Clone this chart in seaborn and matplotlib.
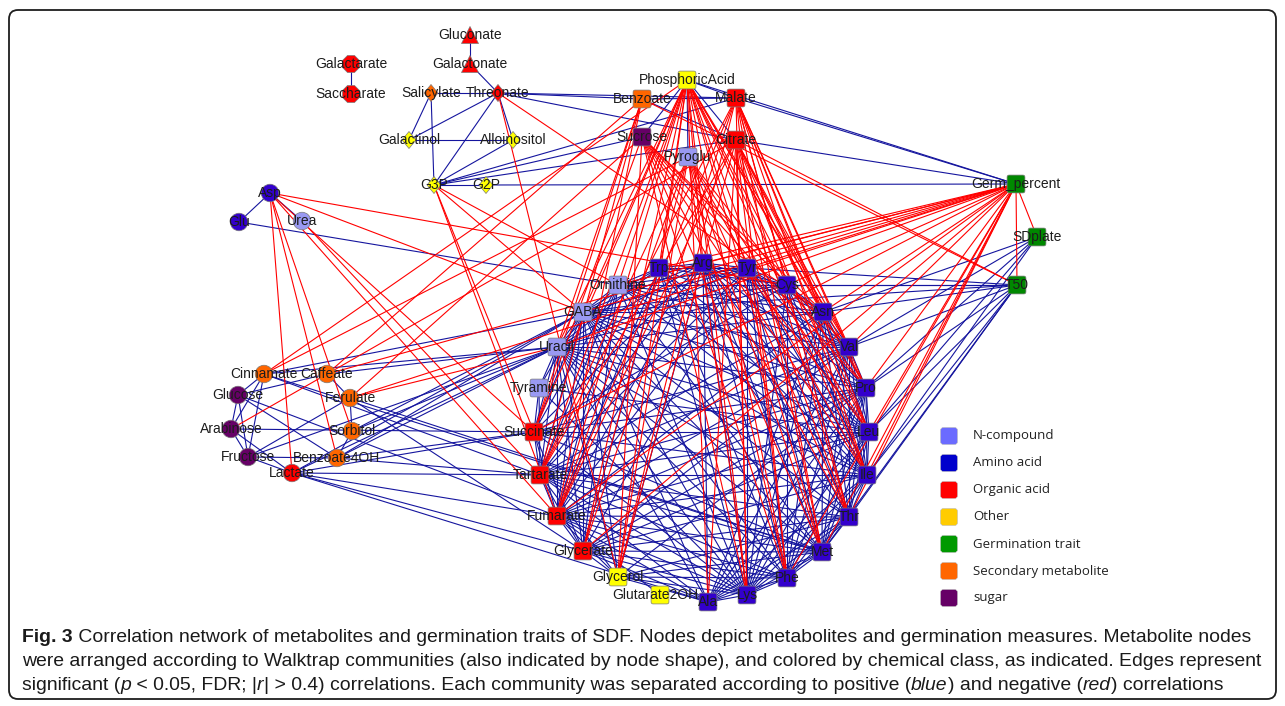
import matplotlib
matplotlib.use("Agg")
import matplotlib.pyplot as plt
from matplotlib.path import Path
from matplotlib.patches import FancyBboxPatch
from matplotlib.collections import LineCollection
from matplotlib import font_manager
import numpy as np
import pandas as pd
import seaborn as sns

# ------------------------------------------------------------------ data
node_names = ["Gluconate", "Galactonate", "Galactarate", "Saccharate",
              "Salicylate", "Threonate", "Galactinol", "Alloinositol", "G3P", "G2P",
              "PhosphoricAcid", "Benzoate", "Malate", "Sucrose", "Citrate", "Pyroglu",
              "Germ_percent", "SDplate", "T50",
              "Asp", "Glu", "Urea",
              "Ornithine", "Trp", "Arg", "Tyr", "Cys", "Asn", "Val", "Pro", "Leu", "Ile",
              "Thr", "Met", "Phe", "Lys", "Ala", "Glutarate2OH", "Glycerol", "Glycerate",
              "Fumarate", "Tartarate", "Succinate", "Tyramine", "Uracil", "GABA",
              "Cinnamate", "Caffeate", "Glucose", "Ferulate", "Arabinose", "Sorbitol",
              "Fructose", "Benzoate4OH", "Lactate"]
node_x = [470, 470, 351, 351,
          431, 498, 409, 513, 434, 486,
          687, 642, 736, 642, 736, 688,
          1016, 1037, 1017,
          270, 239, 302,
          618, 659, 703, 747, 787, 823, 849, 866, 869, 867,
          849, 822, 787, 747, 708, 660, 618, 583,
          557, 540, 534, 539, 557, 583,
          264, 327, 238, 350, 231, 352,
          248, 337, 292]
node_y = [35, 64, 64, 94,
          93, 93, 140, 140, 185, 185,
          80, 99, 98, 137, 140, 157,
          184, 237, 285,
          193, 222, 221,
          285, 268, 263, 268, 285, 312, 347, 388, 432, 475,
          517, 552, 578, 595, 602, 595, 577, 551,
          516, 475, 432, 388, 347, 312,
          374, 374, 395, 398, 429, 431,
          457, 458, 473]
node_class = ["Organic acid", "Organic acid", "Organic acid", "Organic acid",
              "Secondary metabolite", "Organic acid", "Other", "Other", "Other", "Other",
              "Other", "Secondary metabolite", "Organic acid", "sugar", "Organic acid", "N-compound",
              "Germination trait", "Germination trait", "Germination trait",
              "Amino acid", "Amino acid", "N-compound",
              "N-compound", "Amino acid", "Amino acid", "Amino acid", "Amino acid", "Amino acid",
              "Amino acid", "Amino acid", "Amino acid", "Amino acid",
              "Amino acid", "Amino acid", "Amino acid", "Amino acid", "Amino acid", "Other",
              "Other", "Organic acid",
              "Organic acid", "Organic acid", "Organic acid", "N-compound", "N-compound", "N-compound",
              "Secondary metabolite", "Secondary metabolite", "sugar", "Secondary metabolite",
              "sugar", "Secondary metabolite", "sugar", "Secondary metabolite", "Organic acid"]
node_community = (["C1"] * 2 + ["C2"] * 2 + ["C3"] * 6 + ["C4"] * 9 + ["C5"] * 3
                  + ["C4"] * 24 + ["C5"] * 9)

# positive correlations (blue)
positive_edges = {
    "Gluconate": ["Galactonate"],
    "Galactarate": ["Saccharate"],
    "Galactonate": ["Threonate"],
    "Salicylate": ["Threonate", "Galactinol", "G3P"],
    "Threonate": ["Galactinol", "Alloinositol", "G3P", "Benzoate", "Malate", "Citrate"],
    "Galactinol": ["Alloinositol"],
    "G3P": ["G2P", "Alloinositol", "Sucrose", "Malate", "Citrate"],
    "G2P": ["Germ_percent"],
    "PhosphoricAcid": ["Malate", "Pyroglu", "Citrate", "Sucrose", "Germ_percent"],
    "Malate": ["Germ_percent", "Benzoate"],
    "Citrate": ["Germ_percent", "Benzoate"],
    "SDplate": ["Asn", "Val", "Pro", "Leu", "Ile"],
    "T50": ["Ornithine", "GABA", "Tyr", "Cys", "Asn", "Val", "Pro", "Leu", "Ile", "Thr", "Met"],
    "Asp": ["Glu", "Urea"],
    "Glu": ["Ornithine"],
    "Cinnamate": ["Glucose", "Arabinose", "Fructose", "Uracil", "GABA", "Tartarate", "Met"],
    "Caffeate": ["Ferulate", "Uracil", "Glucose"],
    "Glucose": ["Arabinose", "Fructose", "Fumarate", "Benzoate4OH"],
    "Arabinose": ["Fructose", "Lactate", "Succinate"],
    "Ferulate": ["Sorbitol", "Glycerate", "Met", "Fructose"],
    "Sorbitol": ["Uracil", "GABA", "Benzoate4OH"],
    "Fructose": ["Uracil", "Lactate", "Benzoate4OH"],
    "Benzoate4OH": ["Uracil", "GABA", "Succinate", "Tartarate"],
    "Lactate": ["Uracil", "GABA", "Succinate", "Tartarate", "Fumarate", "Glycerate", "Ala"],
    "Ornithine": ["Trp", "Arg", "Tyr", "Asn", "Val", "Pro", "Leu", "Ile", "Met", "Lys", "GABA",
                  "Uracil", "Succinate", "Fumarate", "Tartarate", "Glycerate"],
    "Trp": ["Arg", "Tyr", "Cys", "Val", "Leu", "Ile", "Thr", "Phe", "Lys", "GABA", "Uracil",
            "Fumarate", "Glycerate"],
    "Arg": ["Tyr", "Cys", "Asn", "Val", "Pro", "Leu", "Ile", "Thr", "Met", "Phe", "Lys", "Ala",
            "GABA", "Uracil", "Succinate", "Tartarate", "Fumarate", "Glycerol"],
    "Tyr": ["Cys", "Asn", "Val", "Pro", "Leu", "Ile", "Thr", "Met", "Phe", "Lys", "GABA",
            "Uracil", "Tartarate", "Fumarate", "Glycerate"],
    "Cys": ["Asn", "Val", "Pro", "Ile", "Thr", "Phe", "Lys", "GABA", "Uracil", "Succinate"],
    "Asn": ["Val", "Pro", "Leu", "Ile", "Thr", "Met", "Phe", "Lys", "Ala", "GABA", "Uracil",
            "Tartarate", "Fumarate"],
    "Val": ["Pro", "Leu", "Ile", "Thr", "Met", "Phe", "Lys", "Ala", "Uracil", "GABA",
            "Succinate", "Tartarate", "Fumarate", "Glycerate"],
    "Pro": ["Leu", "Ile", "Thr", "Met", "Phe", "Lys", "Ala", "GABA", "Uracil", "Succinate",
            "Tartarate", "Fumarate", "Glycerate", "Glycerol"],
    "Leu": ["Ile", "Thr", "Met", "Phe", "Lys", "Ala", "Succinate", "Tartarate", "Fumarate",
            "Glycerate", "GABA", "Uracil", "Tyramine"],
    "Ile": ["Thr", "Met", "Phe", "Lys", "Ala", "Tartarate", "Fumarate", "Glycerate", "Uracil",
            "GABA", "Succinate"],
    "Thr": ["Met", "Phe", "Lys", "Ala", "Fumarate", "Glycerate", "Tartarate", "Uracil", "GABA",
            "Glycerol"],
    "Met": ["Phe", "Lys", "Ala", "Glycerate", "Fumarate", "Tartarate", "Succinate", "Uracil",
            "GABA", "Glycerol"],
    "Phe": ["Lys", "Ala", "Glycerate", "Fumarate", "Tartarate", "Uracil", "GABA", "Glycerol"],
    "Lys": ["Ala", "Glycerate", "Fumarate", "Tartarate", "Succinate", "Uracil", "GABA",
            "Glycerol", "Tyramine"],
    "Ala": ["Glycerate", "Fumarate", "Uracil", "GABA", "Glycerol", "Tartarate"],
    "Glutarate2OH": ["Fumarate"],
    "Glycerol": ["Glycerate", "Fumarate", "Tartarate", "Uracil", "GABA"],
    "Glycerate": ["Fumarate", "Tartarate", "Succinate", "Uracil", "GABA"],
    "Fumarate": ["Tartarate", "Succinate", "Uracil", "GABA"],
    "Tartarate": ["Succinate", "Uracil", "GABA", "Tyramine"],
    "Succinate": ["Uracil", "GABA", "Tyramine"],
    "Tyramine": ["Uracil", "GABA"],
    "Uracil": ["GABA"],
}

# negative correlations (red)
negative_edges = {
    "PhosphoricAcid": ["Trp", "Arg", "Tyr", "Cys", "Asn", "Val", "Pro", "Leu", "Ile", "Thr",
                       "Met", "Phe", "Lys", "Ala", "Glycerol", "Glycerate", "Fumarate",
                       "Tartarate", "Succinate", "Uracil", "GABA", "Ornithine", "Cinnamate"],
    "Malate": ["Cys", "Asn", "Val", "Pro", "Leu", "Ile", "Thr", "Met", "Phe", "Lys",
               "Glycerate", "Fumarate", "Tartarate", "Glycerol"],
    "Citrate": ["Asn", "Val", "Pro", "Leu", "Ile", "Thr", "Met", "Phe", "Lys", "Ala",
                "Tartarate", "Glycerol", "Fumarate", "T50", "Arabinose"],
    "Sucrose": ["Asn", "Val", "Pro", "Leu", "Ile", "Thr", "Met", "Phe", "Lys", "Ferulate",
                "Glycerol", "Succinate"],
    "Pyroglu": ["Pro", "Leu", "Ile", "Thr", "Met", "Phe", "Lys", "Glycerate", "Fumarate",
                "Tartarate", "Glycerol", "Cinnamate"],
    "Benzoate": ["Uracil", "Succinate", "Tartarate", "Fumarate", "T50", "Caffeate"],
    "Germ_percent": ["Trp", "Arg", "Tyr", "Cys", "Asn", "Val", "Pro", "Leu", "Ile", "Thr", "Met",
                     "Phe", "Ornithine", "GABA", "Uracil", "Succinate", "Fumarate", "Glycerate",
                     "Ferulate", "Caffeate", "SDplate", "T50"],
    "Threonate": ["Glycerol", "Asn"],
    "G3P": ["GABA", "Succinate", "Fumarate", "Ornithine"],
    "Asp": ["Cys", "GABA", "Succinate", "Lactate", "Benzoate4OH", "Sorbitol", "Fumarate"],
    "Urea": ["Tartarate"],
    "Ferulate": ["Uracil"],
}

legend_labels = ["N-compound", "Amino acid", "Organic acid", "Other", "Germination trait",
                 "Secondary metabolite", "sugar"]
legend_colors = ["#6b6bff", "#0000cc", "#ff0000", "#ffcc00", "#009900", "#ff6600", "#660066"]

caption_segments = [
    [("Fig. 3", "bold", "normal"),
     (" Correlation network of metabolites and germination traits of SDF. Nodes depict metabolites "
      "and germination measures. Metabolite nodes", "normal", "normal")],
    [("were arranged according to Walktrap communities (also indicated by node shape), and colored "
      "by chemical class, as indicated. Edges represent", "normal", "normal")],
    [("significant (", "normal", "normal"), ("p", "normal", "italic"),
     (" < 0.05, FDR; |", "normal", "normal"), ("r", "normal", "italic"),
     ("| > 0.4) correlations. Each community was separated according to positive (", "normal", "normal"),
     ("blue", "normal", "italic"), (") and negative (", "normal", "normal"),
     ("red", "normal", "italic"), (") correlations", "normal", "normal")],
]
caption_right_edges = [1266, 1262, 1228]

# ------------------------------------------------------------------ styles
node_palette = {"N-compound": "#9999f2", "Amino acid": "#3300cc", "Organic acid": "#ff0000",
                "Other": "#ffff00", "Germination trait": "#008800",
                "Secondary metabolite": "#ff6600", "sugar": "#660066"}
label_shift = {"Glutarate2OH": -5}


def rounded_square(r=0.22, n=7):
    verts = []
    for cx, cy, a0 in [(1 - r, 1 - r, 0), (-(1 - r), 1 - r, 90),
                       (-(1 - r), -(1 - r), 180), (1 - r, -(1 - r), 270)]:
        for t in np.radians(np.linspace(a0, a0 + 90, n)):
            verts.append((cx + r * np.cos(t), cy + r * np.sin(t)))
    verts.append(verts[0])
    codes = [Path.MOVETO] + [Path.LINETO] * (len(verts) - 2) + [Path.CLOSEPOLY]
    return Path(verts, codes)


diamond = Path([(0, 1), (0.82, 0), (0, -1), (-0.82, 0), (0, 1)],
               [Path.MOVETO, Path.LINETO, Path.LINETO, Path.LINETO, Path.CLOSEPOLY])
markers = {"C1": "^", "C2": "8", "C3": diamond, "C4": rounded_square(), "C5": "o"}
sizes = {"C1": 150, "C2": 175, "C3": 150, "C4": 165, "C5": 160}


def has_font(name):
    try:
        font_manager.findfont(font_manager.FontProperties(family=name), fallback_to_default=False)
        return True
    except Exception:
        return False


label_font = "Liberation Sans" if has_font("Liberation Sans") else "DejaVu Sans"
caption_font = label_font
for cand in ["Liberation Sans Narrow", "DejaVu Sans Condensed"]:
    if has_font(cand):
        caption_font = cand
        break
legend_font = "Open Sans" if has_font("Open Sans") else label_font

# ------------------------------------------------------------------ figure
sns.set_theme(style="white")
fig = plt.figure(figsize=(12.85, 7.06), dpi=100)
ax = fig.add_axes([0, 0, 1, 1])

nodes = pd.DataFrame({"name": node_names, "x": node_x, "y": node_y,
                      "cls": node_class, "community": node_community})
pos = {n: (x, y) for n, x, y in zip(node_names, node_x, node_y)}


def segments(edge_dict):
    return [[pos[a], pos[b]] for a, targets in edge_dict.items() for b in targets]


ax.add_collection(LineCollection(segments(positive_edges), colors="#15159e",
                                 linewidths=0.8, zorder=1))
ax.add_collection(LineCollection(segments(negative_edges), colors="#ff0000",
                                 linewidths=0.8, zorder=1.5))

sns.scatterplot(data=nodes, x="x", y="y", hue="cls", style="community", size="community",
                palette=node_palette, markers=markers, sizes=sizes, legend=False,
                edgecolor="#7a7a7a", linewidth=0.5, ax=ax, zorder=3)
ax.set_xlim(0, 1285)
ax.set_ylim(706, 0)
ax.axis("off")

for n, x, y in zip(node_names, node_x, node_y):
    ax.text(x + label_shift.get(n, 0), y, n, ha="center", va="center", fontsize=10,
            family=label_font, color="#1c1c1c", zorder=4)

# legend
for i, (lab, col) in enumerate(zip(legend_labels, legend_colors)):
    yy = 436 + 27 * i
    ax.add_patch(FancyBboxPatch((940.5, yy - 8.5), 17, 17,
                                boxstyle="round,pad=0,rounding_size=3",
                                fc=col, ec="#bbbbbb", lw=0.4, zorder=3))
    ax.text(973, yy, lab, ha="left", va="center", fontsize=9.5, family=legend_font,
            color="#222222", zorder=4)

# border
ax.add_patch(FancyBboxPatch((9, 10), 1267, 689, boxstyle="round,pad=0,rounding_size=9",
                            fill=False, ec="#1e1e1e", lw=1.3, clip_on=False, zorder=5))

# caption (rich text drawn segment by segment)
fig.canvas.draw()
renderer = fig.canvas.get_renderer()


def text_width(s, size, weight, style):
    t1 = ax.text(0, 0, "|" + s + "|", fontsize=size, family=caption_font,
                 weight=weight, style=style)
    t2 = ax.text(0, 0, "||", fontsize=size, family=caption_font,
                 weight=weight, style=style)
    w = t1.get_window_extent(renderer).width - t2.get_window_extent(renderer).width
    t1.remove()
    t2.remove()
    return w


base = 10.0
fits = []
for line, right in zip(caption_segments, caption_right_edges):
    w = sum(text_width(s, base, wt, st) for s, wt, st in line)
    fits.append(base * (right - 22) / w)
cap_size = min(min(fits), 15.0)

for line, yy in zip(caption_segments, [637, 661, 685]):
    x = 22
    for s, wt, st in line:
        ax.text(x, yy, s, ha="left", va="center", fontsize=cap_size, family=caption_font,
                weight=wt, style=st, color="#1a1a1a", zorder=5)
        x += text_width(s, cap_size, wt, st)

fig.savefig("out.png", dpi=100)
